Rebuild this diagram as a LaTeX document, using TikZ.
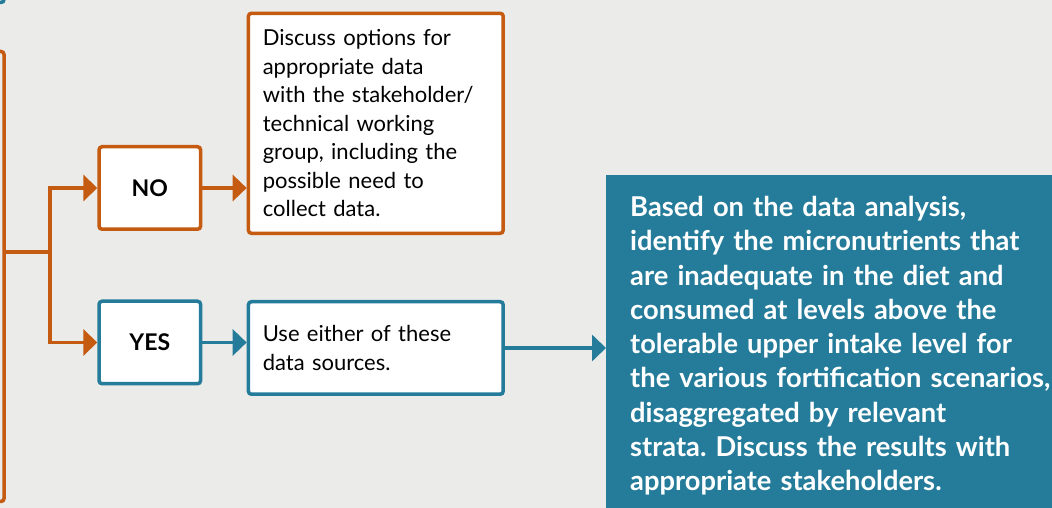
\documentclass[tikz,border=0pt]{standalone}
\usepackage{fontspec}
\setmainfont{Lato}
\usetikzlibrary{positioning,arrows.meta}
\definecolor{rust}{HTML}{C55A11}
\definecolor{petrol}{HTML}{247C9A}
\definecolor{paper}{HTML}{EBEBE9}
\frenchspacing

\begin{document}
\begin{tikzpicture}[x=1pt,y=1pt,
  box/.style={draw,line width=3.5pt,rounded corners=3pt,fill=white,align=left,
              inner xsep=14pt,text width=226pt,minimum width=254.8pt,
              font=\fontsize{22pt}{28.5pt}\selectfont},
  answer/.style={draw,line width=3.5pt,rounded corners=3pt,fill=white,
                 minimum width=101.5pt,minimum height=82.5pt,
                 font=\bfseries\fontsize{23pt}{27pt}\selectfont},
  flow/.style={line width=3.5pt,-{Triangle[length=14pt,width=26pt]}}]
\useasboundingbox (0,0) rectangle (1052,508);
\clip (0,0) rectangle (1052,508);
\fill[paper] (0,0) rectangle (1052,508);

% boxes cut off at the edge
\draw[petrol,line width=3.5pt,rounded corners=3pt] (-40,505.5) rectangle (4,540);
\node[draw=rust,line width=3.5pt,rounded corners=3pt,minimum width=44pt,
      minimum height=450pt] (prev) at (-18,231.5) {};

\node[answer,draw=rust]   (no)  at (149.8,320)   {NO};
\node[answer,draw=petrol] (yes) at (149.8,165.5) {YES};

\node[box,draw=rust,minimum height=220pt] (discuss) at (375.8,384.7)
  {Discuss options for\\appropriate data\\with the stakeholder/\\technical working\\group, including the\\possible need to\\collect data.};
\node[box,draw=petrol,minimum height=92.5pt] (use) at (375.8,160)
  {Use either of these\\data sources.};

\node[fill=petrol,text=white,anchor=north west,align=left,text width=500pt,
      inner xsep=24pt,inner ysep=21pt,
      font=\bfseries\fontsize{27.3pt}{34.3pt}\selectfont] (result) at (606,333)
  {Based on the data analysis,\\identify the micronutrients that\\are inadequate in the diet and\\consumed at levels above the\\tolerable upper intake level for\\the various fortification scenarios,\\disaggregated by relevant\\strata. Discuss the results with\\appropriate stakeholders.};

\coordinate (split) at (50,256);
\draw[rust,line width=3.5pt] (prev.east |- split) -- (split);
\draw[flow,rust] (split) |- (no.west);
\draw[flow,rust] (split) |- (yes.west);
\draw[flow,rust] (no) -- (no -| discuss.west);
\draw[flow,petrol] (yes) -- (yes -| use.west);
\draw[flow,petrol] (use) -- (use -| result.west);
\end{tikzpicture}
\end{document}
